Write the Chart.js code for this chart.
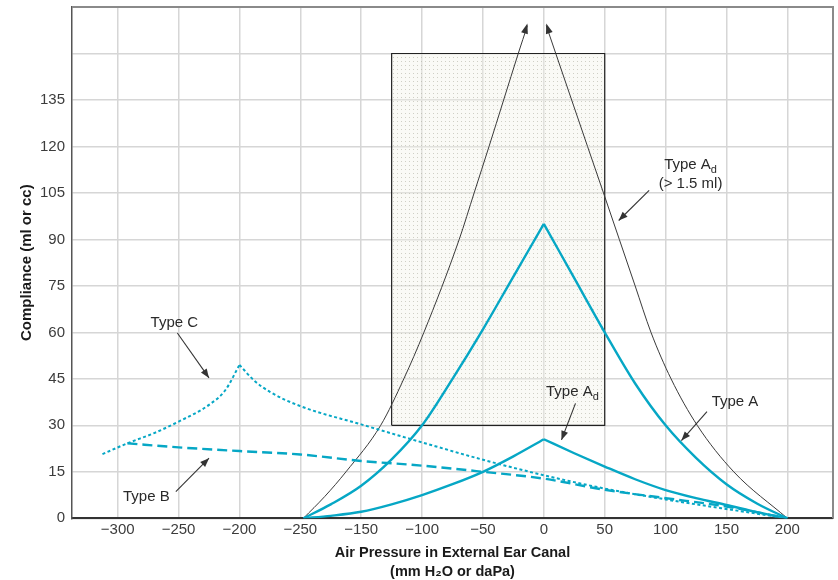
<!DOCTYPE html>
<html>
<head>
<meta charset="utf-8">
<script src="https://cdn.jsdelivr.net/npm/chart.js@4.4.1/dist/chart.umd.min.js"></script>
<style>
  html, body { margin: 0; padding: 0; background: #fff; }
  #wrap { width: 838px; height: 580px; }
</style>
</head>
<body>
<div id="wrap"><canvas id="c" width="838" height="580"></canvas></div>
<script>
// ---- Axis ticks (x positions are tick steps: 0 = first printed label) ----
const xTickPositions = [0, 1, 2, 3, 4, 5, 6, 7, 8, 9, 10, 11];
const xTickLabels = ['−300', '−250', '−200', '−250', '−150', '−100', '−50', '0', '50', '100', '150', '200'];
const yTickValues = [0, 15, 30, 45, 60, 75, 90, 105, 120, 135, 150, 165];
const yLabelMax = 135;

// ---- Curves: [x (tick position), compliance] ----
const typeA_rise  = [[3.05,0],[3.5,4.5],[4.0,10.5],[4.5,19],[5.0,30],[5.5,45],[6.0,61],[6.5,78],[7.0,95]];
const typeA_fall  = [[7.0,95],[7.5,77.5],[8.0,60],[8.5,43.5],[9.0,30],[9.5,19.5],[10.0,11],[10.5,4.8],[11.0,0]];
const typeAdSmall_rise = [[3.05,0],[3.5,0.8],[4.0,2.1],[4.5,4.5],[5.0,7.5],[5.5,11],[6.0,15],[6.5,20],[7.0,25.5]];
const typeAdSmall_fall = [[7.0,25.5],[7.5,21],[8.0,16.7],[8.5,12.6],[9.0,9.1],[9.5,6.5],[10.0,4.3],[10.5,2],[11.0,0]];
const typeAdLarge_rise = [[3.05,0],[3.4,7],[3.75,15],[4.32,30],[4.70,45],[5.03,60],[5.61,90],[5.855,105],[6.10,120],[6.34,135],[6.58,150],[6.73,159]];
const typeAdLarge_fall = [[7.04,159],[7.196,150],[7.457,135],[7.718,120],[7.98,105],[8.24,90],[8.50,75],[8.76,60],[9.09,45],[9.52,30],[10.12,15],[11.0,0]];
const typeB = [[0.16,24.2],[1,22.9],[2,21.7],[3,20.6],[4,18.5],[5,17],[6,15],[7,12.8],[8,9.2],[9,6.5],[10,3.8],[11,0]];
const typeC_rise = [[-0.25,20.7],[0.16,24.2],[0.6,27.5],[1.0,31.2],[1.5,36.6],[1.77,41.4],[2.0,49.5]];
const typeC_fall = [[2.0,49.5],[2.24,44.5],[2.5,40.8],[3,36.2],[4,30.3],[5,24.5],[6,18.9],[7,13.9],[8,9.6],[9,6.1],[10,3],[11,0]];
// normal-range box corners
const normalBox = [[4.5,30],[4.5,150],[8,150],[8,30],[4.5,30]];

// ---- Annotations ----
const noteText  = ['Type C', 'Type B', 'Type A', 'Type A', 'Type A'];
const noteSub   = ['', '', 'd', '', 'd'];
const noteLine2 = ['', '', '(> 1.5 ml)', '', ''];
const noteX     = [0.93, 0.47, 9.41, 10.14, 7.47];
const noteY     = [63.1, 6.9, 113.9, 37.7, 40.9];
const arrowFrom = [[0.98,59.8],[0.955,8.6],[8.73,105.8],[9.68,34.4],[7.52,37.1]];
const arrowTo   = [[1.50,45.3],[1.50,19.4],[8.23,96.1],[9.26,25.1],[7.29,25.3]];

const FONT = '"Liberation Sans", Arial, Helvetica, sans-serif';
const CYAN = '#06a7c5';

function pts(a) { return a.map(p => ({ x: p[0], y: p[1] })); }

// dotted fill pattern
const pc = document.createElement('canvas');
pc.width = 4; pc.height = 4;
const pctx = pc.getContext('2d');
pctx.fillStyle = 'rgba(242,242,232,0.4)';
pctx.fillRect(0, 0, 4, 4);
pctx.fillStyle = 'rgba(165,165,150,0.5)';
pctx.fillRect(1, 1, 1, 1);
const dotPattern = document.getElementById('c').getContext('2d').createPattern(pc, 'repeat');

function line(data, color, width, dash, order) {
  return {
    data: pts(data), borderColor: color, borderWidth: width, borderDash: dash || [],
    pointRadius: 0, fill: false, cubicInterpolationMode: 'monotone', order: order || 0,
    borderCapStyle: 'butt'
  };
}

function arrowHead(ctx, x1, y1, x2, y2, len, half) {
  const a = Math.atan2(y2 - y1, x2 - x1);
  ctx.beginPath();
  ctx.moveTo(x2, y2);
  ctx.lineTo(x2 - len * Math.cos(a) + half * Math.sin(a), y2 - len * Math.sin(a) - half * Math.cos(a));
  ctx.lineTo(x2 - len * Math.cos(a) - half * Math.sin(a), y2 - len * Math.sin(a) + half * Math.cos(a));
  ctx.closePath();
  ctx.fill();
}

const decor = {
  id: 'decor',
  afterDatasetsDraw(chart) {
    const ctx = chart.ctx, xs = chart.scales.x, ys = chart.scales.y;
    ctx.save();
    // arrowheads at the top of the large Type Ad curve
    ctx.fillStyle = '#333';
    const l = typeAdLarge_rise, r = typeAdLarge_fall;
    const lp = l[l.length - 2], lt = l[l.length - 1];
    arrowHead(ctx, xs.getPixelForValue(lp[0]), ys.getPixelForValue(lp[1]), xs.getPixelForValue(lt[0]), ys.getPixelForValue(lt[1]) - 2, 10, 3.5);
    arrowHead(ctx, xs.getPixelForValue(r[1][0]), ys.getPixelForValue(r[1][1]), xs.getPixelForValue(r[0][0]), ys.getPixelForValue(r[0][1]) - 2, 10, 3.5);
    // annotation arrows
    ctx.strokeStyle = '#333'; ctx.lineWidth = 1.1;
    for (let i = 0; i < arrowFrom.length; i++) {
      const x1 = xs.getPixelForValue(arrowFrom[i][0]), y1 = ys.getPixelForValue(arrowFrom[i][1]);
      const x2 = xs.getPixelForValue(arrowTo[i][0]), y2 = ys.getPixelForValue(arrowTo[i][1]);
      ctx.beginPath(); ctx.moveTo(x1, y1); ctx.lineTo(x2, y2); ctx.stroke();
      arrowHead(ctx, x1, y1, x2, y2, 9, 3.5);
    }
    // annotation texts
    ctx.fillStyle = '#2a2a2a';
    ctx.textBaseline = 'middle';
    ctx.textAlign = 'left';
    for (let i = 0; i < noteText.length; i++) {
      const cx = xs.getPixelForValue(noteX[i]), cy = ys.getPixelForValue(noteY[i]);
      ctx.font = '15px ' + FONT;
      const w1 = ctx.measureText(noteText[i]).width;
      ctx.font = '11px ' + FONT;
      const w2 = noteSub[i] ? ctx.measureText(noteSub[i]).width : 0;
      const sx = cx - (w1 + w2) / 2;
      ctx.font = '15px ' + FONT;
      ctx.fillText(noteText[i], sx, cy);
      if (noteSub[i]) { ctx.font = '11px ' + FONT; ctx.fillText(noteSub[i], sx + w1, cy + 5); }
      if (noteLine2[i]) {
        ctx.font = '15px ' + FONT;
        ctx.textAlign = 'center';
        ctx.fillText(noteLine2[i], cx, cy + 19);
        ctx.textAlign = 'left';
      }
    }
    ctx.restore();
  },
  afterDraw(chart) {
    const ctx = chart.ctx, a = chart.chartArea;
    ctx.save();
    ctx.strokeStyle = '#8a8a8a'; ctx.lineWidth = 2;
    ctx.beginPath();
    ctx.moveTo(a.left, a.top); ctx.lineTo(a.right, a.top); ctx.lineTo(a.right, a.bottom);
    ctx.stroke();
    ctx.restore();
  }
};

new Chart(document.getElementById('c'), {
  type: 'line',
  data: {
    datasets: [
      line(typeA_rise, CYAN, 2.4),
      line(typeA_fall, CYAN, 2.4),
      line(typeAdSmall_rise, CYAN, 2.4),
      line(typeAdSmall_fall, CYAN, 2.4),
      line(typeAdLarge_rise, '#3a3a3a', 1, [], 1),
      line(typeAdLarge_fall, '#3a3a3a', 1, [], 1),
      line(typeB, CYAN, 2.4, [10, 5]),
      line(typeC_rise, CYAN, 2, [3, 2.5]),
      line(typeC_fall, CYAN, 2, [3, 2.5]),
      {
        data: pts(normalBox), borderColor: '#222', borderWidth: 1.2, pointRadius: 0,
        tension: 0, fill: 'shape', backgroundColor: dotPattern, order: 10
      }
    ]
  },
  options: {
    responsive: false, animation: false, devicePixelRatio: 1,
    layout: { padding: { top: 7, right: 5, left: 6, bottom: -1 } },
    plugins: { legend: { display: false }, tooltip: { enabled: false } },
    scales: {
      x: {
        type: 'linear', min: -0.75, max: 11.75,
        afterBuildTicks: s => { s.ticks = xTickPositions.map(v => ({ value: v })); },
        grid: { color: '#d6d6d6', lineWidth: 1.5, drawTicks: false },
        border: { color: '#333', width: 2 },
        ticks: {
          autoSkip: false, maxRotation: 0, padding: 3, color: '#3c3c3c',
          font: { family: FONT, size: 15, lineHeight: 1.2 },
          callback: (v, i) => xTickLabels[i]
        },
        title: {
          display: true, text: ['Air Pressure in External Ear Canal', '(mm H₂O or daPa)'],
          color: '#1a1a1a', padding: { top: 1, bottom: 0 },
          font: { family: FONT, size: 14.5, weight: 'bold', lineHeight: 1.3 }
        }
      },
      y: {
        type: 'linear', min: 0, max: 165,
        afterBuildTicks: s => { s.ticks = yTickValues.map(v => ({ value: v })); },
        afterFit: s => { s.paddingTop = 0; s.paddingBottom = 0; },
        grid: { color: '#d6d6d6', lineWidth: 1.5, drawTicks: false },
        border: { color: '#555', width: 1.5 },
        ticks: {
          padding: 7, color: '#3c3c3c',
          font: { family: FONT, size: 15, lineHeight: 1.2 },
          callback: v => (v <= yLabelMax ? String(v) : '')
        },
        title: {
          display: true, text: 'Compliance (ml or cc)', color: '#1a1a1a',
          padding: { top: 12, bottom: -3 },
          font: { family: FONT, size: 15, weight: 'bold', lineHeight: 1.2 }
        }
      }
    }
  },
  plugins: [decor]
});
</script>
</body>
</html>
